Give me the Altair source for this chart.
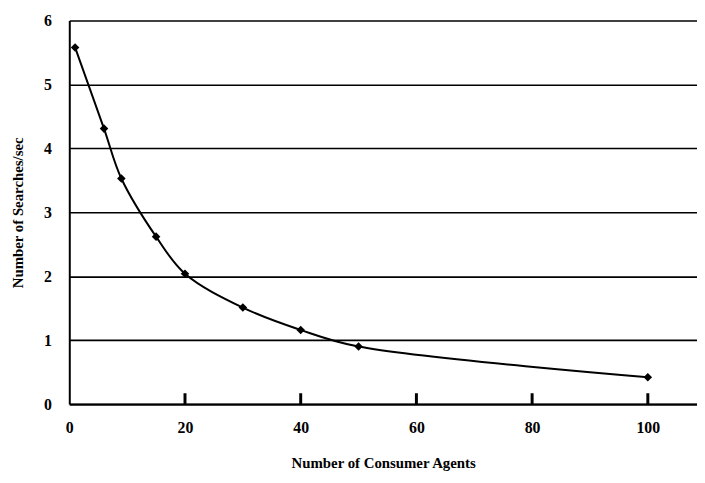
import altair as alt
import pandas as pd

agents = [1, 6, 9, 15, 20, 30, 40, 50, 100]
searches = [5.58, 4.31, 3.53, 2.62, 2.04, 1.51, 1.16, 0.9, 0.42]
x_ticks = [0, 20, 40, 60, 80, 100]
y_ticks = [0, 1, 2, 3, 4, 5, 6]

df = pd.DataFrame({"agents": agents, "searches": searches})
tick_df = pd.DataFrame({"agents": [float(t) for t in x_ticks if t > 0]})

FONT = "Liberation Serif"
PLOT_H = 388

xscale = alt.Scale(domain=[0, 108.5], nice=False, zero=True)
yscale = alt.Scale(domain=[0, 6], nice=False)

xaxis = alt.Axis(
    values=x_ticks, title="Number of Consumer Agents", grid=False,
    ticks=False, domainColor="black", domainWidth=2, format="d",
    labelFont=FONT, labelFontSize=16, labelFontWeight="bold", labelColor="black",
    labelPadding=16, titleFont=FONT, titleFontSize=15, titleFontWeight="bold",
    titleColor="black", titlePadding=20, labelFlush=False,
)
yaxis = alt.Axis(
    values=y_ticks, title="Number of Searches/sec", grid=True, format="d",
    gridColor="black", gridWidth=1.6, gridOpacity=1, ticks=False,
    domainColor="black", domainWidth=2,
    labelFont=FONT, labelFontSize=16, labelFontWeight="bold", labelColor="black",
    labelPadding=18, titleFont=FONT, titleFontSize=15, titleFontWeight="bold",
    titleColor="black", titlePadding=18,
)

line = alt.Chart(df).mark_line(
    color="black", strokeWidth=2, interpolate="catmull-rom"
).encode(
    x=alt.X("agents:Q", scale=xscale, axis=xaxis),
    y=alt.Y("searches:Q", scale=yscale, axis=yaxis),
)

points = alt.Chart(df).mark_point(
    shape="diamond", filled=True, color="black", size=75, opacity=1
).encode(
    x=alt.X("agents:Q", scale=xscale),
    y=alt.Y("searches:Q", scale=yscale),
)

# short inward tick marks sitting on the x axis
ticks = alt.Chart(tick_df).mark_rule(color="black", strokeWidth=3, opacity=1).encode(
    x=alt.X("agents:Q", scale=xscale),
    y=alt.value(PLOT_H),
    y2=alt.value(PLOT_H - 11),
)

chart = alt.layer(line, points, ticks).properties(
    width=635,
    height=PLOT_H,
    padding={"left": 62, "top": 10, "right": 0, "bottom": 69},
    autosize="none",
    background="white",
).configure_view(stroke=None)

chart.save("out.html", embed_options={"renderer": "svg", "actions": False})
